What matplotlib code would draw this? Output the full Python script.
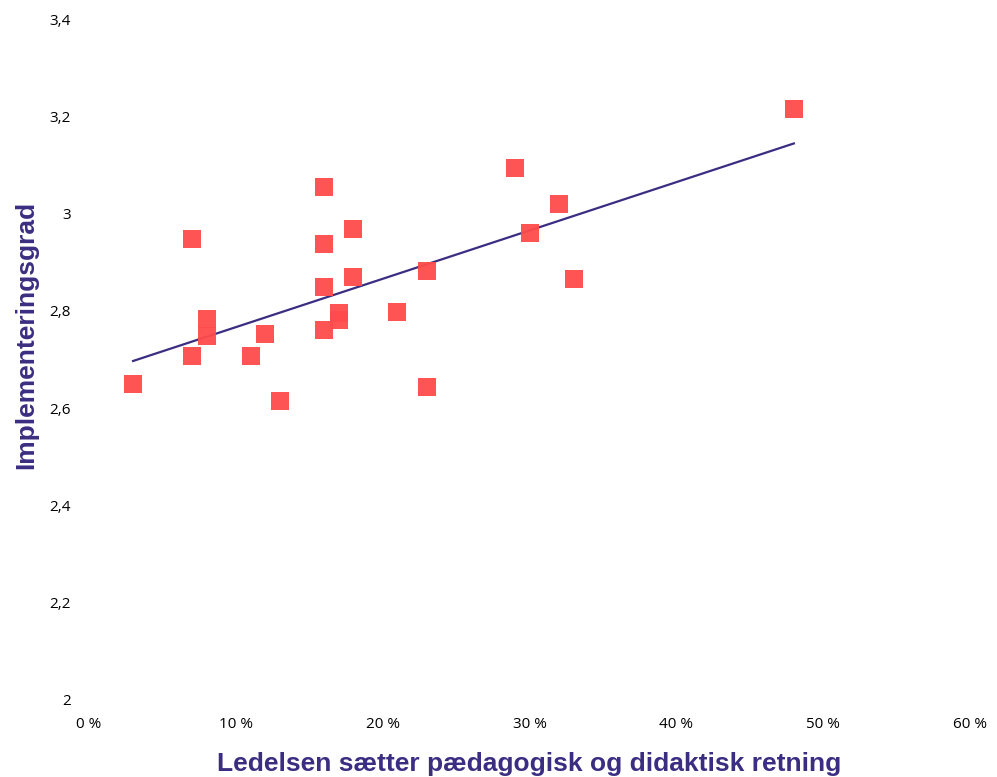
import numpy as np
import matplotlib
matplotlib.use("Agg")
from matplotlib import pyplot as plt
from matplotlib.ticker import FuncFormatter

# andel (%) der svarer at ledelsen sætter retning, og implementeringsgrad
retning = [3, 7, 7, 8, 8, 11, 12, 13, 16, 16, 16, 16, 17, 17, 18, 18,
           21, 23, 23, 29, 30, 32, 33, 48]
implementering = [2.650, 2.948, 2.707, 2.783, 2.748, 2.707, 2.752, 2.615,
                  3.055, 2.937, 2.849, 2.761, 2.796, 2.781, 2.968, 2.870,
                  2.798, 2.882, 2.643, 3.094, 2.960, 3.020, 2.866, 3.215]

x_ticks = [0, 10, 20, 30, 40, 50, 60]
y_ticks = [2.0, 2.2, 2.4, 2.6, 2.8, 3.0, 3.2, 3.4]

PURPLE = '#3b2e82'
RED = '#ff4b4b'


def main():
    fig = plt.figure(figsize=(9.97, 7.77), dpi=100)
    ax = fig.add_axes([0.0893, 0.0991, 0.8837, 0.8764])

    x = np.array(retning, dtype=float)
    y = np.array(implementering)

    ax.scatter(x, y, marker='s', s=175, color=RED, alpha=0.95,
               linewidths=0, zorder=3)

    # lineær trendlinje
    k, m = np.polyfit(x, y, 1)
    xs = np.array([x.min(), x.max()])
    ax.plot(xs, k * xs + m, color=PURPLE, lw=1.6, zorder=2)

    ax.set_xlim(0, 60)
    ax.set_ylim(2, 3.4)
    ax.set_xticks(x_ticks)
    ax.set_yticks(y_ticks)
    ax.xaxis.set_major_formatter(FuncFormatter(lambda v, p: f'{v:.0f} %'))

    def yfmt(v, p):
        s = f'{v:.1f}'.replace('.', ',')
        return s[:-2] if s.endswith(',0') else s

    ax.yaxis.set_major_formatter(FuncFormatter(yfmt))
    for s in ax.spines.values():
        s.set_visible(False)
    ax.tick_params(length=0, labelsize=11, colors='black')
    ax.tick_params(axis='y', pad=13)
    ax.tick_params(axis='x', pad=12)
    for lab in ax.get_xticklabels() + ax.get_yticklabels():
        lab.set_family('Open Sans')

    ax.set_xlabel('Ledelsen sætter pædagogisk og didaktisk retning',
                  fontsize=19, fontweight='bold', color=PURPLE,
                  family='Liberation Sans', labelpad=15)
    ax.set_ylabel('Implementeringsgrad', fontsize=19, fontweight='bold',
                  color=PURPLE, family='Liberation Sans')
    ax.yaxis.set_label_coords(-0.058, 0.536)

    fig.savefig('out.png', dpi=100)


if __name__ == '__main__':
    main()
